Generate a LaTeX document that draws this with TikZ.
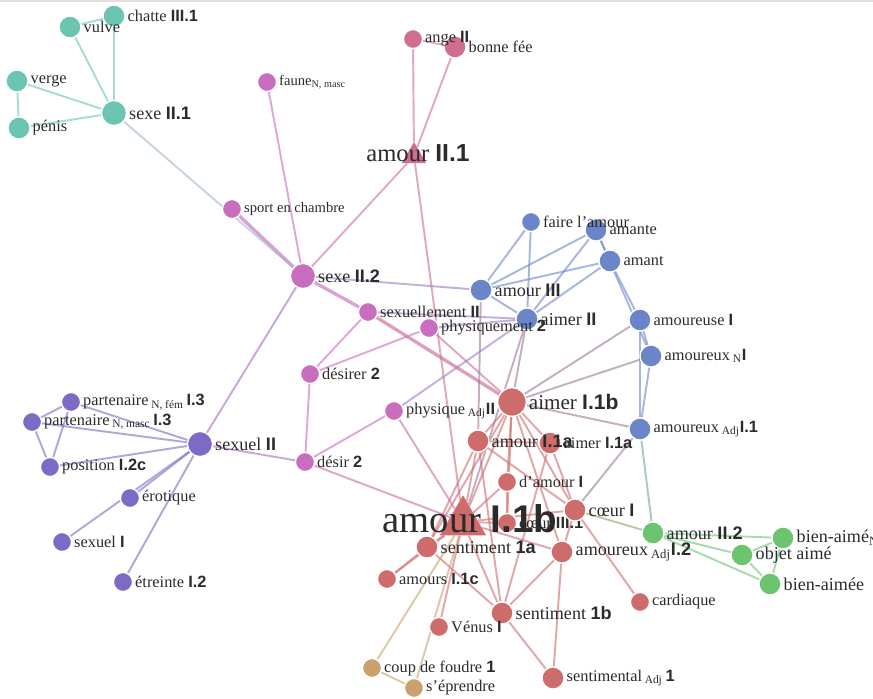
\documentclass[tikz,border=0pt]{standalone}
\usepackage{fontspec}
\setmainfont{Liberation Serif}
\setsansfont{Liberation Sans}
\usetikzlibrary{shapes.geometric,backgrounds}

\definecolor{tealc}{HTML}{6CC5B0}
\definecolor{rosec}{HTML}{CF6E91}
\definecolor{magc}{HTML}{C96DBF}
\definecolor{bluec}{HTML}{6B86C8}
\definecolor{purc}{HTML}{7D6AC4}
\definecolor{redc}{HTML}{CE6B6B}
\definecolor{greenc}{HTML}{6CC46E}
\definecolor{tanc}{HTML}{C9A06E}
\definecolor{txtc}{HTML}{2B2B2B}

\newcommand{\sn}[1]{{\sffamily\bfseries #1}}
\newcommand{\lsub}[1]{\textsubscript{#1}}

\begin{document}
\begin{tikzpicture}[x=0.02cm, y=-0.02cm,
  dot/.style={circle, fill=#1, draw=white, line width=0.7pt, minimum size=0.38cm, inner sep=0pt},
  sizem/.style={minimum size=0.44cm},
  sizel/.style={minimum size=0.5cm},
  sizexl/.style={minimum size=0.57cm},
  tri/.style={regular polygon, regular polygon sides=3, fill=#1, inner sep=0pt},
  lbl/.style={font=\fontsize{9.3}{11}\selectfont, text=txtc, inner sep=1pt},
  lbls/.style={font=\fontsize{8.3}{10}\selectfont, text=txtc, inner sep=1pt},
  lblm/.style={font=\fontsize{10.3}{12}\selectfont, text=txtc, inner sep=1pt},
  link/.style={line width=1.1pt, draw opacity=0.6},
  fatlink/.style={line width=1.9pt, draw opacity=0.65},
  label distance=0pt]

  % Fixed bounding box (873 x 698 px)
  \path[use as bounding box] (0,0) rectangle (873,698);
  \fill[black!12] (0,0) rectangle (873,2);

  % ---- sexe II.1 (teal) ----
  \node[dot=tealc, sizem, label={[lbl]right:{chatte \sn{III.1}}}] (chatte) at (114,16) {};
  \node[dot=tealc, sizem, label={[lbl]right:vulve}] (vulve) at (70,27) {};
  \node[dot=tealc, sizem, label={[lbl]right:verge}] (verge) at (17,81) {};
  \node[dot=tealc, sizem, label={[lbl]right:pénis}] (penis) at (19,128) {};
  \node[dot=tealc, sizel, label={[lblm]right:{sexe \sn{II.1}}}] (sexeA) at (114,113) {};

  % ---- amour II.1 (rose) ----
  \node[dot=rosec, sizem, label={[lbl]right:{bonne fée}}] (bonne) at (455,47) {};
  \node[dot=rosec, label={[lbl]right:{ange \sn{II}}}] (ange) at (413,39) {};
  \node[tri=rosec, minimum size=0.56cm] (amourB) at (414,156) {};

  % ---- amour III (blue) ----
  \node[dot=bluec, sizem, label={[lbl]right:amante}] (amante) at (596,230) {};
  \node[dot=bluec, label={[lbl]right:{faire l’amour}}] (faire) at (531,222) {};
  \node[dot=bluec, sizem, label={[lbl]right:amant}] (amant) at (610,261) {};
  \node[dot=bluec, sizem, label={[lblm]right:{amour \sn{III}}}] (amourIII) at (481,290) {};
  \node[dot=bluec, sizem, label={[lblm]right:{aimer \sn{II}}}] (aimerII) at (527,319) {};
  \node[dot=bluec, sizem, label={[lbl]right:{amoureuse \sn{I}}}] (amoureuse) at (640,320) {};
  \node[dot=bluec, sizem, label={[lbl]right:{amoureux\,\lsub{N}\sn{I}}}] (amoureuxN) at (651,356) {};
  \node[dot=bluec, sizem, label={[lbl]right:{amoureux\,\lsub{Adj}\sn{I.1}}}] (amoureuxAdj) at (640,429) {};

  % ---- sexe II.2 (magenta) ----
  \node[dot=magc, label={[lbls]right:{faune\lsub{N, masc}}}] (faune) at (267,82) {};
  \node[dot=magc, label={[lbls]right:{sport en chambre}}] (sport) at (232,209) {};
  \node[dot=magc, sizel, label={[lblm]right:{sexe \sn{II.2}}}] (sexeB) at (303,276) {};
  \node[dot=magc, label={[lbl]right:{physiquement \sn{2}}}] (physiquement) at (429,328) {};
  \node[dot=magc, label={[lbl]right:{sexuellement \sn{II}}}] (sexuellement) at (368,312) {};
  \node[dot=magc, label={[lbl]right:{désirer \sn{2}}}] (desirer) at (310,374) {};
  \node[dot=magc, label={[lbl]right:{physique\,\lsub{Adj}\sn{II}}}] (physique) at (394,411) {};
  \node[dot=magc, label={[lbl]right:{désir \sn{2}}}] (desir) at (305,462) {};

  % ---- sexuel II (purple) ----
  \node[dot=purc, label={[lbl]right:{partenaire\,\lsub{N, fém}\,\sn{I.3}}}] (partF) at (71,402) {};
  \node[dot=purc, label={[lbl]right:{partenaire\,\lsub{N, masc}\,\sn{I.3}}}] (partM) at (32,422) {};
  \node[dot=purc, sizel, label={[lblm]right:{sexuel \sn{II}}}] (sexuelII) at (200,444) {};
  \node[dot=purc, label={[lbl]right:{position \sn{I.2c}}}] (position) at (50,467) {};
  \node[dot=purc, label={[lbl]right:{érotique}}] (erotique) at (130,498) {};
  \node[dot=purc, label={[lbl]right:{sexuel \sn{I}}}] (sexuelI) at (62,542) {};
  \node[dot=purc, label={[lbl]right:{étreinte \sn{I.2}}}] (etreinte) at (123,582) {};

  % ---- amour I.1b (red) ----
  \node[dot=redc, sizexl, label={[font=\fontsize{12}{14}\selectfont, text=txtc, inner sep=1pt]right:{aimer \sn{I.1b}}}] (aimerIb) at (512,402) {};
  \node[dot=redc, sizem, label={[lbl]right:{aimer \sn{I.1a}}}] (aimerIa) at (550,443) {};
  \node[dot=redc, sizem, label={[lblm]right:{amour \sn{I.1a}}}] (amourIa) at (478,441) {};
  \node[dot=redc, label={[lbl]right:{d’amour \sn{I}}}] (damour) at (507,482) {};
  \node[dot=redc, label={[lbl]right:{cœur \sn{III.1}}}] (coeurIII) at (507,523) {};
  \node[tri=redc, minimum size=1.07cm] (amourA) at (463,522) {};
  \node[dot=redc, sizem, label={[lblm]right:{cœur \sn{I}}}] (coeurI) at (575,510) {};
  \node[dot=redc, sizem, label={[lblm]right:{sentiment \sn{1a}}}] (sentA) at (427,547) {};
  \node[dot=redc, sizem, label={[lblm]right:{amoureux\,\lsub{Adj}\sn{I.2}}}] (amouxII) at (562,552) {};
  \node[dot=redc, label={[lbl]right:{amours \sn{I.1c}}}] (amours) at (387,579) {};
  \node[dot=redc, sizem, label={[lblm]right:{sentiment \sn{1b}}}] (sentB) at (502,613) {};
  \node[dot=redc, label={[lbl]right:{Vénus \sn{I}}}] (venus) at (439,627) {};
  \node[dot=redc, label={[lbl]right:cardiaque}] (cardiaque) at (640,602) {};
  \node[dot=redc, sizem, label={[lbl]right:{sentimental\,\lsub{Adj}\,\sn{1}}}] (sentimental) at (553,678) {};
  \node[dot=tanc, label={[lbl]right:{coup de foudre \sn{1}}}] (coup) at (372,668) {};
  \node[dot=tanc, label={[lbl]right:{s’éprendre}}] (seprendre) at (414,688) {};

  % ---- amour II.2 (green) ----
  \node[dot=greenc, sizem, label={[lblm]right:{amour \sn{II.2}}}] (amourII) at (653,533) {};
  \node[dot=greenc, sizem, label={[lblm]right:{bien-aimé\lsub{N}}}] (bienaimeN) at (783,538) {};
  \node[dot=greenc, sizem, label={[lblm]right:{objet aimé}}] (objet) at (742,555) {};
  \node[dot=greenc, sizem, label={[lblm]right:{bien-aimée}}] (bienaimee) at (770,584) {};

  % ---- big titles over the triangles ----
  \node[font=\fontsize{14}{16}\selectfont, text=txtc, anchor=base, inner sep=0pt] (amourBtxt) at (418,161) {amour \sn{II.1}};
  \node[font=\fontsize{22}{26}\selectfont, text=txtc, anchor=base, inner sep=0pt] (amourAtxt) at (470,532) {amour \sn{I.1b}};

  % ======== LINKS ========
  \begin{pgfonlayer}{background}
    % inside the groups
    \foreach \a/\b in {vulve/chatte, vulve/sexeA, chatte/sexeA, verge/sexeA, verge/penis, penis/sexeA}
      \draw[link, tealc] (\a) -- (\b);
    \foreach \a/\b in {ange/bonne, ange/amourB, bonne/amourB}
      \draw[link, rosec] (\a) -- (\b);
    \foreach \a/\b in {faune/sexeB, sexuellement/desirer, physiquement/desirer, desirer/desir, physique/desir}
      \draw[link, magc] (\a) -- (\b);
    \foreach \a/\b in {sport/sexeB, sexeB/sexuellement}
      \draw[fatlink, magc] (\a) -- (\b);
    \foreach \a/\b in {partF/partM, partF/position, partM/position, partF/sexuelII, partM/sexuelII,
                       position/sexuelII, erotique/sexuelII, sexuelI/sexuelII, etreinte/sexuelII}
      \draw[link, purc] (\a) -- (\b);
    \foreach \a/\b in {faire/amourIII, faire/aimerII, amante/amourIII, amante/aimerII, amante/amant,
                       amant/amourIII, amant/aimerII, amourIII/aimerII, amant/amoureuse,
                       amante/amoureuxN, amoureuse/amoureuxN, amoureuse/amoureuxAdj, amoureuxN/amoureuxAdj}
      \draw[link, bluec] (\a) -- (\b);
    \foreach \a/\b in {aimerIb/amourIa, aimerIb/aimerIa, aimerIb/damour, aimerIb/amourA, aimerIb/coeurI,
                       aimerIb/coeurIII, aimerIb/sentA, aimerIb/amouxII, amourIa/aimerIa, amourIa/amourA,
                       amourIa/sentA, amourIa/coeurI, amourIa/sentB, damour/amourA, damour/coeurIII,
                       amourA/coeurI, amourA/coeurIII, amourA/sentA, amourA/amours, amourA/venus,
                       amourA/sentB, amourA/amouxII, coeurI/amouxII, coeurI/cardiaque, sentA/sentB,
                       sentA/amours, sentB/amouxII, sentB/sentimental, amouxII/sentimental,
                       aimerIa/coeurI, aimerIa/sentB}
      \draw[link, redc] (\a) -- (\b);
    \foreach \a/\b in {coup/seprendre, coup/amourA, seprendre/amourA}
      \draw[link, tanc] (\a) -- (\b);
    \foreach \a/\b in {amourII/bienaimeN, amourII/objet, amourII/bienaimee, bienaimeN/objet,
                       bienaimeN/bienaimee, objet/bienaimee}
      \draw[link, greenc] (\a) -- (\b);

    % between the groups
    \draw[link, tealc!50!purc!70] (sexeA) -- (sexeB);
    \draw[link, rosec!60!magc] (amourB) -- (sexeB);
    \draw[link, rosec!80!redc] (amourB) -- (amourA);
    \draw[fatlink, magc!50!redc] (sexuellement) -- (aimerIb);
    \draw[link, magc!50!bluec] (sexeB) -- (amourIII);
    \draw[link, magc!50!purc] (sexeB) -- (sexuelII);
    \draw[link, magc!50!bluec] (sexuellement) -- (aimerII);
    \draw[link, magc!50!bluec] (physiquement) -- (aimerII);
    \draw[link, magc!50!bluec] (physique) -- (aimerII);
    \draw[link, magc!50!redc] (physiquement) -- (aimerIb);
    \draw[link, magc!60!redc] (physique) -- (amourA);
    \draw[link, magc!60!redc] (desir) -- (amourA);
    \draw[link, purc!50!magc] (sexuelII) -- (desir);
    \draw[link, bluec!50!redc] (amourIII) -- (amourIa);
    \draw[link, bluec!50!redc] (aimerII) -- (aimerIb);
    \draw[link, bluec!50!redc] (aimerII) -- (amourA);
    \draw[link, bluec!50!redc] (amoureuse) -- (aimerIb);
    \draw[link, bluec!50!redc] (amoureuxN) -- (aimerIb);
    \draw[link, bluec!50!redc] (amoureuxAdj) -- (aimerIb);
    \draw[link, bluec!50!redc] (amoureuxAdj) -- (coeurI);
    \draw[link, bluec!40!greenc] (amoureuxAdj) -- (amourII);
    \draw[link, greenc!70!redc] (coeurI) -- (amourII);
  \end{pgfonlayer}

\end{tikzpicture}
\end{document}
